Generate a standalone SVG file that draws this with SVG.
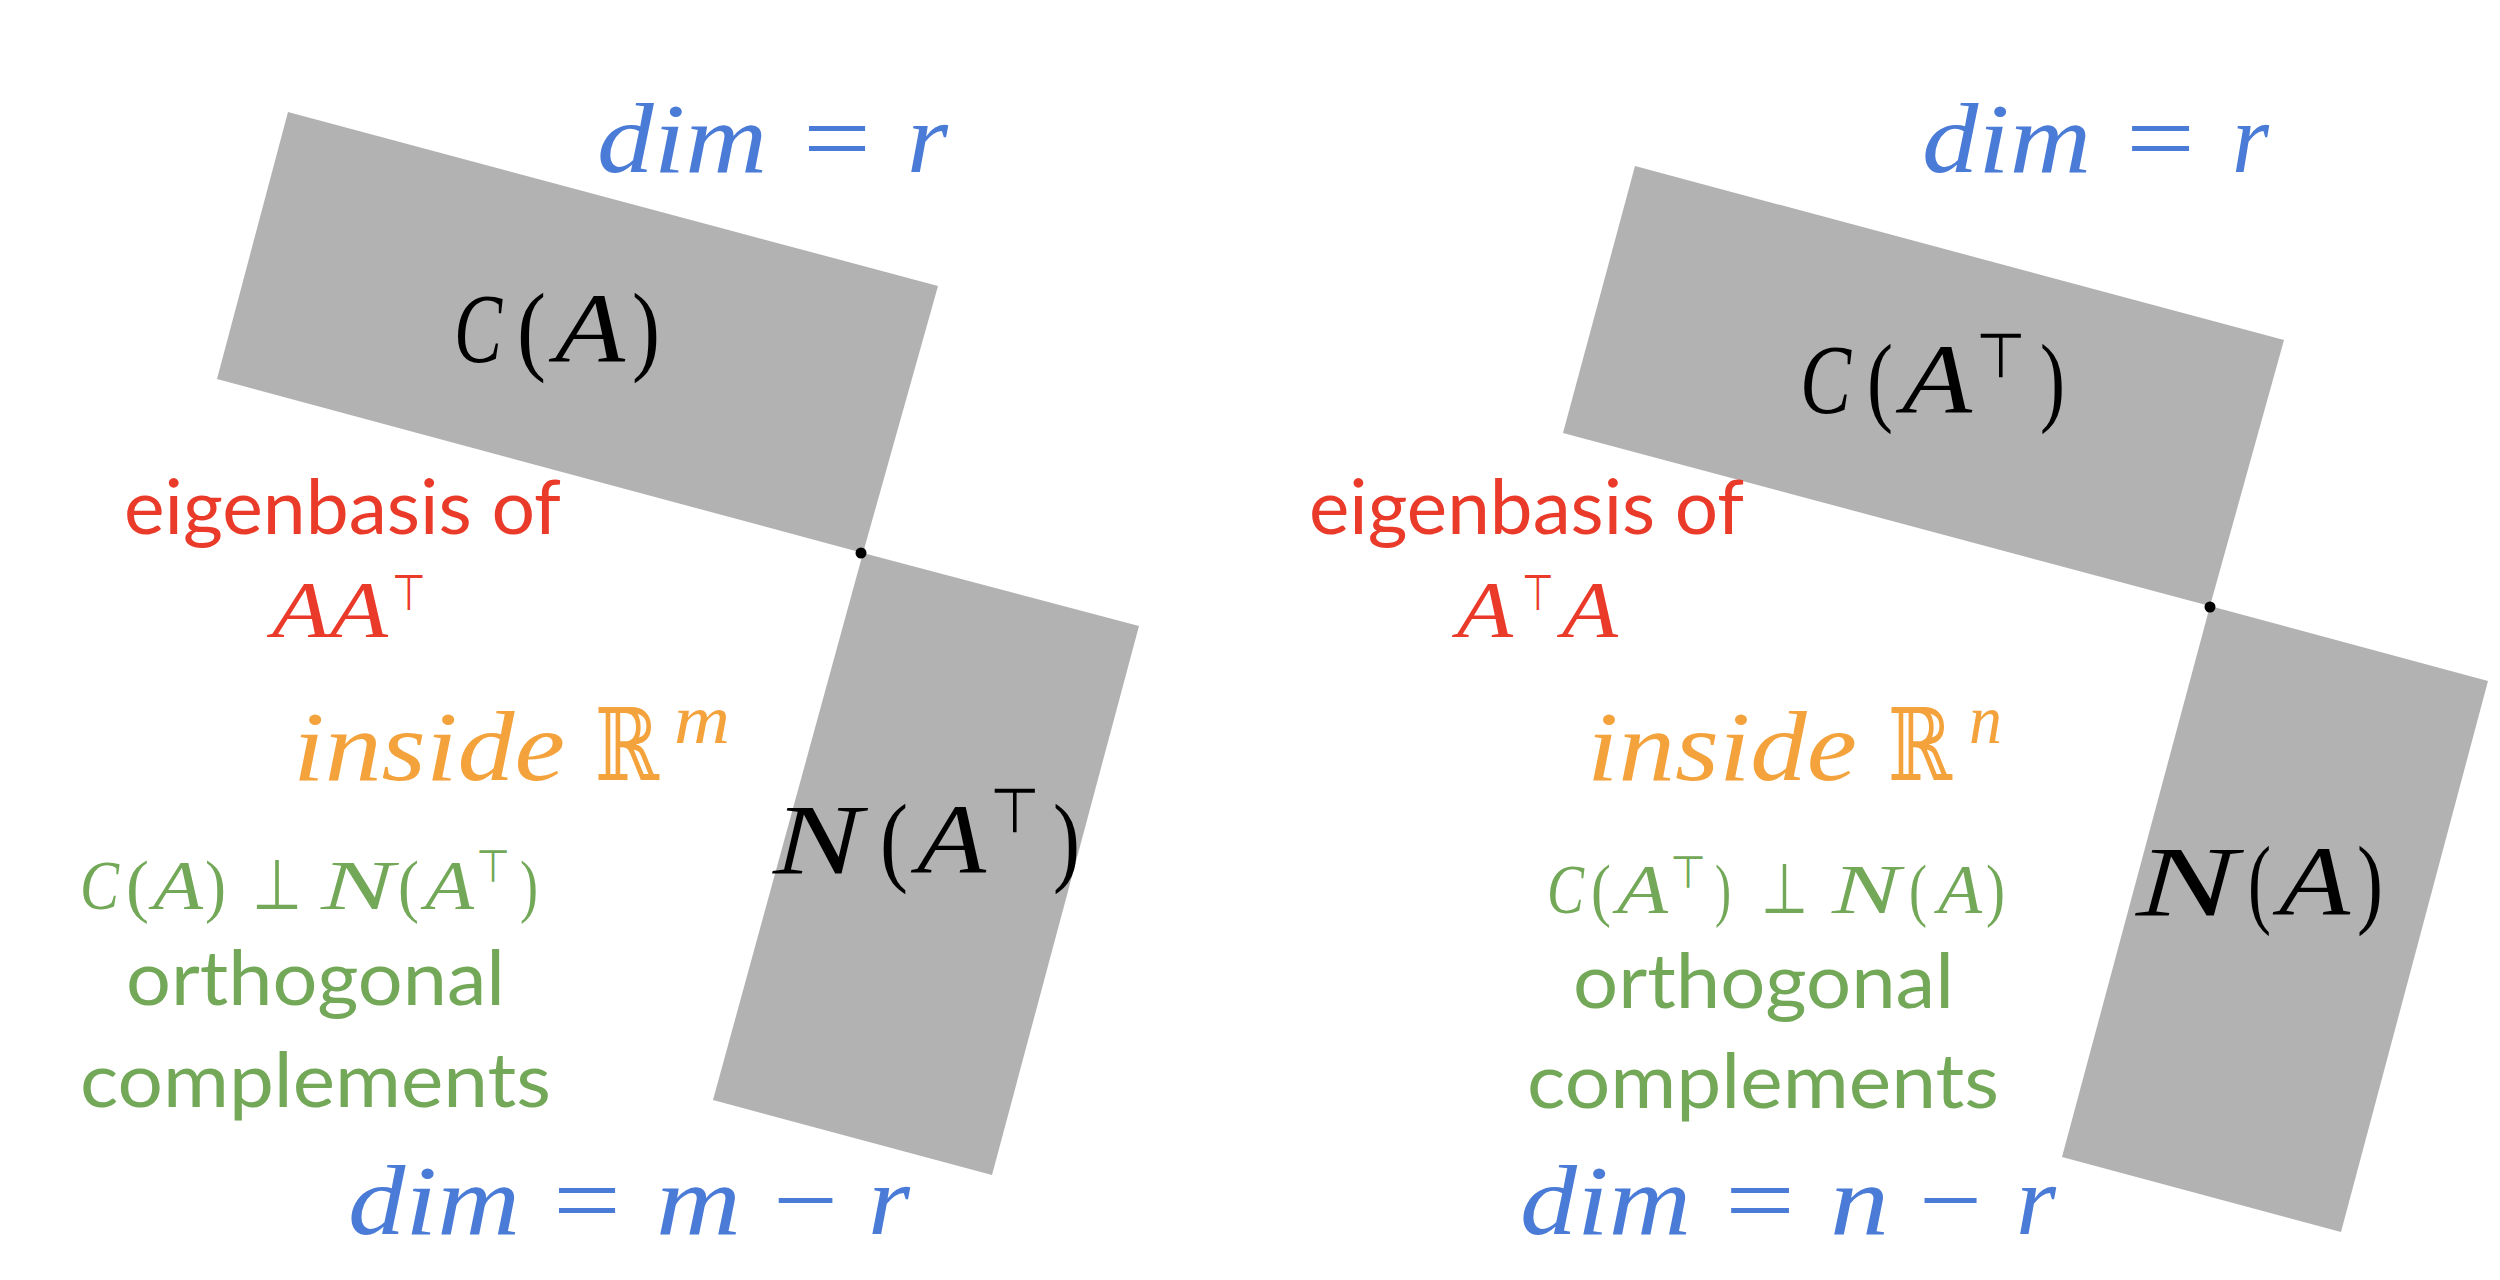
<svg xmlns="http://www.w3.org/2000/svg" width="2500" height="1280" viewBox="0 0 2500 1280">
<style>
.bg{fill:#ffffff}
.plane{fill:#b2b2b2}
.dot{fill:#000000}
.mi{font-family:"Liberation Serif","DejaVu Serif",serif;font-style:italic}
.mo{font-family:"Liberation Serif","DejaVu Serif",serif;font-style:normal}
.sym{font-family:"DejaVu Sans","DejaVu Serif",sans-serif;font-style:normal}
.bb{font-family:"DejaVu Serif","DejaVu Sans",serif;font-style:normal}
.sketch{font-family:Lato,"Open Sans",sans-serif;font-size:76px}
.k{fill:#000000}
.blue{fill:#4a7bd6}
.red{fill:#ea3a2a}
.orange{fill:#f4a23c}
.green{fill:#72a857}
.f100{font-size:100px}
.f80{font-size:80px}
.f70{font-size:70px}
.f62{font-size:62px}
.f50{font-size:50px}
.f45{font-size:45px}
</style>
<rect class="bg" x="0" y="0" width="2500" height="1280"/>

<!-- LEFT DIAGRAM -->
<g id="plane-CA">
  <polygon class="plane" points="288,112 938,286 863,553 217,379"/>
  <g class="k f100">
    <text class="mi" x="454" y="362" textLength="48" lengthAdjust="spacingAndGlyphs">C</text>
    <text class="mo" x="517" y="362" textLength="29" lengthAdjust="spacingAndGlyphs">(</text>
    <text class="mi" x="555" y="362" textLength="70" lengthAdjust="spacingAndGlyphs">A</text>
    <text class="mo" x="632" y="362" textLength="28" lengthAdjust="spacingAndGlyphs">)</text>
  </g>
</g>
<g id="plane-NAT">
  <polygon class="plane" points="863,553 1139,626 992,1175 713,1100"/>
  <g class="k f100">
    <text class="mi" x="773" y="873" textLength="89" lengthAdjust="spacingAndGlyphs">N</text>
    <text class="mo" x="880" y="873" textLength="28" lengthAdjust="spacingAndGlyphs">(</text>
    <text class="mi" x="917" y="873" textLength="69" lengthAdjust="spacingAndGlyphs">A</text>
    <text class="sym f62" x="990" y="832" textLength="50" lengthAdjust="spacingAndGlyphs">⊤</text>
    <text class="mo" x="1053" y="873" textLength="27" lengthAdjust="spacingAndGlyphs">)</text>
  </g>
</g>
<g id="origin-left"><circle class="dot" cx="861" cy="553" r="5.5"/></g>

<g id="dim-r-left" class="blue f100">
  <text class="mi" x="597" y="172" textLength="170" lengthAdjust="spacingAndGlyphs">dim</text>
  <text class="mo" x="803" y="172" textLength="68" lengthAdjust="spacingAndGlyphs">=</text>
  <text class="mi" x="907" y="172" textLength="41" lengthAdjust="spacingAndGlyphs">r</text>
</g>

<g id="eigen-left" class="red">
  <text class="sketch" x="124" y="534" textLength="437" lengthAdjust="spacingAndGlyphs">eigenbasis of</text>
  <text class="mi f80" x="272" y="637" textLength="116" lengthAdjust="spacingAndGlyphs">AA</text>
  <text class="sym f50" x="392" y="610" textLength="34" lengthAdjust="spacingAndGlyphs">⊤</text>
</g>

<g id="inside-left" class="orange">
  <text class="mi f100" x="293" y="780" textLength="272" lengthAdjust="spacingAndGlyphs">inside</text>
  <text class="bb f100" x="595" y="780" textLength="64" lengthAdjust="spacingAndGlyphs">ℝ</text>
  <text class="mi f70" x="674" y="743" textLength="56" lengthAdjust="spacingAndGlyphs">m</text>
</g>

<g id="ortho-left" class="green">
  <g class="f70">
    <text class="mi" x="80" y="909" textLength="39" lengthAdjust="spacingAndGlyphs">C</text>
    <text class="mo" x="126" y="909" textLength="23" lengthAdjust="spacingAndGlyphs">(</text>
    <text class="mi" x="153" y="909" textLength="50" lengthAdjust="spacingAndGlyphs">A</text>
    <text class="mo" x="205" y="909" textLength="21" lengthAdjust="spacingAndGlyphs">)</text>
    <text class="sym" x="252" y="909" textLength="50" lengthAdjust="spacingAndGlyphs">⊥</text>
    <text class="mi" x="321" y="909" textLength="73" lengthAdjust="spacingAndGlyphs">N</text>
    <text class="mo" x="398" y="909" textLength="21" lengthAdjust="spacingAndGlyphs">(</text>
    <text class="mi" x="425" y="909" textLength="49" lengthAdjust="spacingAndGlyphs">A</text>
    <text class="sym f45" x="476" y="882" textLength="34" lengthAdjust="spacingAndGlyphs">⊤</text>
    <text class="mo" x="520" y="909" textLength="18" lengthAdjust="spacingAndGlyphs">)</text>
  </g>
  <text class="sketch" x="126" y="1005" textLength="379" lengthAdjust="spacingAndGlyphs">orthogonal</text>
  <text class="sketch" x="80" y="1107" textLength="471" lengthAdjust="spacingAndGlyphs">complements</text>
</g>

<g id="dim-mr-left" class="blue f100">
  <text class="mi" x="348" y="1234" textLength="172" lengthAdjust="spacingAndGlyphs">dim</text>
  <text class="mo" x="553" y="1234" textLength="68" lengthAdjust="spacingAndGlyphs">=</text>
  <text class="mi" x="656" y="1234" textLength="85" lengthAdjust="spacingAndGlyphs">m</text>
  <text class="mo" x="773" y="1234" textLength="65" lengthAdjust="spacingAndGlyphs">−</text>
  <text class="mi" x="868" y="1234" textLength="42" lengthAdjust="spacingAndGlyphs">r</text>
</g>

<!-- RIGHT DIAGRAM -->
<g id="plane-CAT">
  <polygon class="plane" points="1635,166 2284,340 2210,606 1563,433"/>
  <g class="k f100">
    <text class="mi" x="1800" y="413" textLength="51" lengthAdjust="spacingAndGlyphs">C</text>
    <text class="mo" x="1867" y="413" textLength="26" lengthAdjust="spacingAndGlyphs">(</text>
    <text class="mi" x="1902" y="413" textLength="70" lengthAdjust="spacingAndGlyphs">A</text>
    <text class="sym f62" x="1976" y="377" textLength="50" lengthAdjust="spacingAndGlyphs">⊤</text>
    <text class="mo" x="2040" y="413" textLength="25" lengthAdjust="spacingAndGlyphs">)</text>
  </g>
</g>
<g id="plane-NA">
  <polygon class="plane" points="2210,606 2488,681 2341,1232 2062,1157"/>
  <g class="k f100">
    <text class="mi" x="2136" y="915" textLength="101" lengthAdjust="spacingAndGlyphs">N</text>
    <text class="mo" x="2248" y="915" textLength="23" lengthAdjust="spacingAndGlyphs">(</text>
    <text class="mi" x="2279" y="915" textLength="71" lengthAdjust="spacingAndGlyphs">A</text>
    <text class="mo" x="2357" y="915" textLength="26" lengthAdjust="spacingAndGlyphs">)</text>
  </g>
</g>
<g id="origin-right"><circle class="dot" cx="2210" cy="607" r="5.5"/></g>

<g id="dim-r-right" class="blue f100">
  <text class="mi" x="1922" y="172" textLength="169" lengthAdjust="spacingAndGlyphs">dim</text>
  <text class="mo" x="2126" y="172" textLength="69" lengthAdjust="spacingAndGlyphs">=</text>
  <text class="mi" x="2232" y="172" textLength="37" lengthAdjust="spacingAndGlyphs">r</text>
</g>

<g id="eigen-right" class="red">
  <text class="sketch" x="1309" y="534" textLength="435" lengthAdjust="spacingAndGlyphs">eigenbasis of</text>
  <text class="mi f80" x="1457" y="637" textLength="56" lengthAdjust="spacingAndGlyphs">A</text>
  <text class="sym f50" x="1522" y="610" textLength="32" lengthAdjust="spacingAndGlyphs">⊤</text>
  <text class="mi f80" x="1562" y="637" textLength="56" lengthAdjust="spacingAndGlyphs">A</text>
</g>

<g id="inside-right" class="orange">
  <text class="mi f100" x="1587" y="780" textLength="270" lengthAdjust="spacingAndGlyphs">inside</text>
  <text class="bb f100" x="1888" y="780" textLength="64" lengthAdjust="spacingAndGlyphs">ℝ</text>
  <text class="mi f70" x="1969" y="743" textLength="33" lengthAdjust="spacingAndGlyphs">n</text>
</g>

<g id="ortho-right" class="green">
  <g class="f70">
    <text class="mi" x="1547" y="913" textLength="37" lengthAdjust="spacingAndGlyphs">C</text>
    <text class="mo" x="1591" y="913" textLength="20" lengthAdjust="spacingAndGlyphs">(</text>
    <text class="mi" x="1617" y="913" textLength="51" lengthAdjust="spacingAndGlyphs">A</text>
    <text class="sym f45" x="1670" y="888" textLength="36" lengthAdjust="spacingAndGlyphs">⊤</text>
    <text class="mo" x="1715" y="913" textLength="16" lengthAdjust="spacingAndGlyphs">)</text>
    <text class="sym" x="1761" y="913" textLength="47" lengthAdjust="spacingAndGlyphs">⊥</text>
    <text class="mi" x="1832" y="913" textLength="68" lengthAdjust="spacingAndGlyphs">N</text>
    <text class="mo" x="1909" y="913" textLength="18" lengthAdjust="spacingAndGlyphs">(</text>
    <text class="mi" x="1938" y="913" textLength="44" lengthAdjust="spacingAndGlyphs">A</text>
    <text class="mo" x="1986" y="913" textLength="19" lengthAdjust="spacingAndGlyphs">)</text>
  </g>
  <text class="sketch" x="1573" y="1008" textLength="381" lengthAdjust="spacingAndGlyphs">orthogonal</text>
  <text class="sketch" x="1527" y="1108" textLength="472" lengthAdjust="spacingAndGlyphs">complements</text>
</g>

<g id="dim-nr-right" class="blue f100">
  <text class="mi" x="1520" y="1234" textLength="171" lengthAdjust="spacingAndGlyphs">dim</text>
  <text class="mo" x="1725" y="1234" textLength="70" lengthAdjust="spacingAndGlyphs">=</text>
  <text class="mi" x="1830" y="1234" textLength="59" lengthAdjust="spacingAndGlyphs">n</text>
  <text class="mo" x="1919" y="1234" textLength="63" lengthAdjust="spacingAndGlyphs">−</text>
  <text class="mi" x="2016" y="1234" textLength="40" lengthAdjust="spacingAndGlyphs">r</text>
</g>
</svg>
